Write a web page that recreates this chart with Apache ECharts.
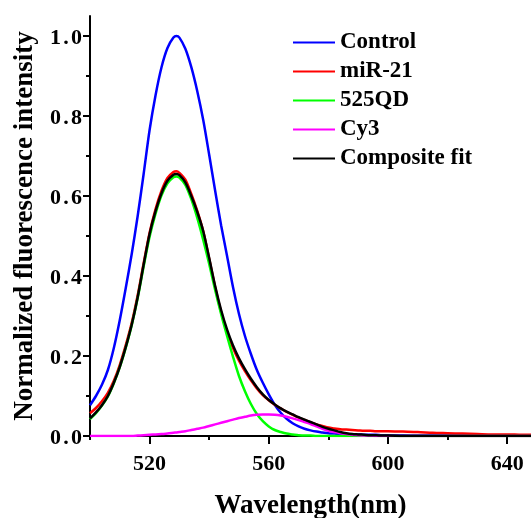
<!DOCTYPE html>
<html><head><meta charset="utf-8">
<script src="https://cdn.jsdelivr.net/npm/echarts@6/dist/echarts.min.js"></script>
<style>html,body{margin:0;padding:0;background:#fff}#c{width:531px;height:518px}</style>
</head><body><div id="c"></div>
<script>
const wavelength = [
  500,502,504,506,508,510,512,514,516,518,
  520,522,524,526,528,529,530,532,534,536,538,
  540,542,544,546,548,550,552,554,556,558,
  560,562,564,566,568,570,572,574,576,578,
  580,582,584,586,588,590,592,594,596,598,
  600,605,610,615,620,625,630,635,640,645,650
];
const control = [
  0.077,0.100,0.128,0.165,0.220,0.290,0.370,0.455,0.550,0.655,
  0.765,0.852,0.922,0.970,0.996,1.000,0.996,0.968,0.922,0.862,0.790,
  0.703,0.613,0.527,0.450,0.372,0.305,0.250,0.205,0.165,0.133,
  0.104,0.078,0.058,0.043,0.032,0.024,0.018,0.014,0.011,0.009,
  0.007,0.006,0.005,0.005,0.004,0.004,0.003,0.003,0.003,0.002,
  0.002,0.002,0.001,0.001,0.001,0.001,0.001,0.001,0.001,0.001,0.001
];
const mir21 = [
  0.057,0.070,0.087,0.108,0.138,0.178,0.227,0.283,0.352,0.432,
  0.508,0.567,0.613,0.645,0.660,0.662,0.658,0.641,0.605,0.563,0.512,
  0.443,0.372,0.310,0.260,0.220,0.188,0.162,0.139,0.119,0.102,
  0.089,0.078,0.069,0.060,0.053,0.046,0.040,0.034,0.029,0.025,
  0.021,0.019,0.017,0.016,0.015,0.014,0.013,0.013,0.012,0.012,
  0.012,0.011,0.010,0.008,0.007,0.006,0.005,0.004,0.004,0.003,0.003
];
const qd525 = [
  0.042,0.057,0.076,0.099,0.132,0.172,0.221,0.277,0.345,0.424,
  0.498,0.556,0.602,0.632,0.647,0.649,0.646,0.628,0.592,0.545,0.490,
  0.430,0.365,0.305,0.250,0.198,0.150,0.112,0.080,0.055,0.037,
  0.024,0.015,0.010,0.006,0.004,0.002,0.001,0.001,0,0,
  0,0,0,0,0,0,0,0,0,0,
  0,0,0,0,0,0,0,0,0,0,0
];
const cy3 = [
  0,0,0,0,0,0,0,0,0.001,0.002,
  0.003,0.004,0.005,0.006,0.008,0.009,0.010,0.012,0.015,0.018,0.021,
  0.025,0.029,0.033,0.037,0.041,0.045,0.048,0.051,0.053,0.054,
  0.054,0.053,0.051,0.048,0.044,0.040,0.035,0.030,0.024,0.018,
  0.013,0.010,0.007,0.005,0.003,0.002,0.001,0.001,0,0,
  0,0,0,0,0,0,0,0,0,0,0
];
const composite = [
  0.044,0.059,0.077,0.100,0.133,0.173,0.222,0.278,0.347,0.428,
  0.505,0.562,0.607,0.638,0.653,0.655,0.652,0.634,0.600,0.560,0.512,
  0.445,0.375,0.315,0.266,0.226,0.194,0.167,0.143,0.122,0.104,
  0.090,0.079,0.069,0.061,0.054,0.047,0.041,0.035,0.029,0.023,
  0.018,0.014,0.010,0.007,0.005,0.004,0.003,0.002,0.002,0.001,
  0.001,0,0,0,0,0,0,0,0,0,0
];
const seriesNames = ['Control','miR-21','525QD','Cy3','Composite fit'];
const seriesValues = [control, mir21, qd525, cy3, composite];
const colors = ['#0000ff','#ff0000','#00ff00','#ff00ff','#000000'];
const xLabelValues = [520,560,600,640];
const xMinorValues = [500,540,580,620];
const yLabelValues = [0,0.2,0.4,0.6,0.8,1.0];
const yMinorValues = [0.1,0.3,0.5,0.7,0.9];

const F = '"Liberation Serif","Times New Roman",serif';
const chart = echarts.init(document.getElementById('c'), null, {renderer:'canvas'});
const axisTxt = {fontFamily:F, fontWeight:'bold', fontSize:22, color:'#000'};
const nameTxt = {fontFamily:F, fontWeight:'bold', fontSize:27, color:'#000'};
chart.setOption({
  animation:false,
  backgroundColor:'#fff',
  grid:{left:90, right:0, top:16, bottom:82, containLabel:false, outerBoundsMode:'none'},
  legend:{
    orient:'vertical', left:293, top:31, padding:0,
    icon:'rect', itemWidth:42, itemHeight:2, itemGap:6,
    data:seriesNames,
    textStyle:{fontFamily:F, fontWeight:'bold', fontSize:23, lineHeight:23, color:'#000'}
  },
  xAxis:[{
    type:'value', min:500, max:648, position:'bottom',
    axisLine:{show:true, onZero:false, lineStyle:{color:'#000', width:2}},
    axisTick:{show:true, inside:false, length:8, customValues:xLabelValues, lineStyle:{color:'#000', width:2}},
    axisLabel:{customValues:xLabelValues, margin:17, ...axisTxt},
    splitLine:{show:false},
    name:'Wavelength(nm)', nameLocation:'middle', nameGap:57, nameTextStyle:nameTxt
  },{
    type:'value', min:500, max:648, position:'bottom',
    axisLine:{show:false},
    axisTick:{show:true, inside:false, length:4, customValues:xMinorValues, lineStyle:{color:'#000', width:2}},
    axisLabel:{show:false}, splitLine:{show:false}
  }],
  yAxis:[{
    type:'value', min:0, max:1.05, position:'left',
    axisLine:{show:true, onZero:false, lineStyle:{color:'#000', width:2}},
    axisTick:{show:true, inside:false, length:7, customValues:yLabelValues, lineStyle:{color:'#000', width:2}},
    axisLabel:{
      customValues:yLabelValues, margin:8, ...axisTxt,
      formatter:v=>{const s=v.toFixed(1).split('.'); return '{d|'+s[0]+'}{p|.}{d|'+s[1]+'}';},
      rich:{d:{...axisTxt, padding:[4,0,0,0]}, p:{...axisTxt, width:10, align:'center', padding:[4,0,0,0]}}
    },
    splitLine:{show:false},
    name:'Normalized fluorescence intensity', nameLocation:'middle', nameGap:51, nameTextStyle:nameTxt
  },{
    type:'value', min:0, max:1.05, position:'left',
    axisLine:{show:false},
    axisTick:{show:true, inside:false, length:4, customValues:yMinorValues, lineStyle:{color:'#000', width:2}},
    axisLabel:{show:false}, splitLine:{show:false}
  }],
  series: seriesNames.map((n,k)=>({
    name:n, type:'line', xAxisIndex:0, yAxisIndex:0,
    symbol:'none', smooth:0.3,
    lineStyle:{color:colors[k], width:2.5},
    itemStyle:{color:colors[k]},
    data: wavelength.map((w,i)=>[w, seriesValues[k][i]])
  }))
});
</script></body></html>
